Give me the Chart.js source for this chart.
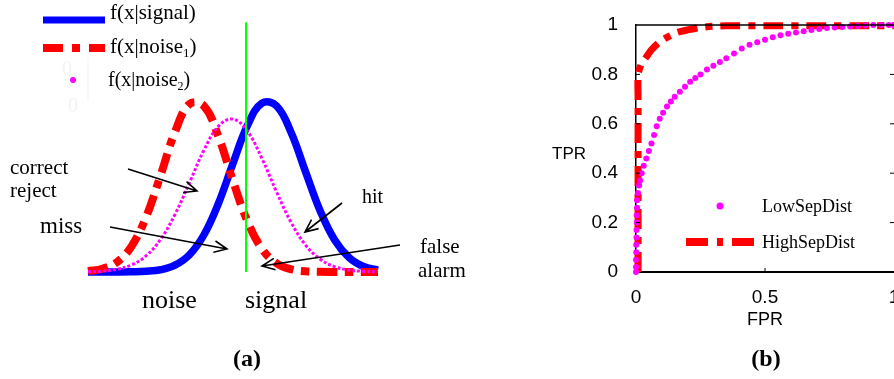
<!DOCTYPE html>
<html>
<head>
<meta charset="utf-8">
<script src="https://cdn.jsdelivr.net/npm/chart.js@4.4.1/dist/chart.umd.min.js"></script>
<style>
  html, body { margin: 0; padding: 0; background: #fff; overflow: hidden; }
  #wrap { position: relative; width: 894px; height: 379px; }
  canvas { position: absolute; left: 0; top: 0; }
</style>
</head>
<body>
<div id="wrap">
  <canvas id="distChart" width="894" height="379"></canvas>
  <canvas id="rocChart" width="894" height="379"></canvas>
</div>
<script>
// ---- panel (a): class-conditional densities ----
const xPos   = [0, 0.5, 1, 1.5, 2, 2.5, 3, 3.5, 4, 4.5, 5, 5.5, 6, 6.5, 7, 7.5, 8, 8.5, 9, 9.5, 10];
const signal = [0, 0, 0, 0.001, 0.004, 0.013, 0.040, 0.101, 0.218, 0.402, 0.635, 0.857, 0.987, 0.972, 0.817, 0.587, 0.360, 0.189, 0.085, 0.032, 0.011];
const noise1 = [0.005, 0.019, 0.058, 0.150, 0.320, 0.564, 0.819, 0.982, 0.970, 0.791, 0.533, 0.296, 0.135, 0.051, 0.016, 0.004, 0.001, 0, 0, 0, 0];
const noise2 = [0.002, 0.005, 0.016, 0.041, 0.094, 0.190, 0.337, 0.523, 0.713, 0.853, 0.894, 0.822, 0.663, 0.469, 0.291, 0.158, 0.076, 0.031, 0.012, 0.004, 0.001];
const thresholdX = [5.45, 5.45];
const thresholdY = [0, 1.46];

// ---- panel (b): ROC curves ----
const lowFpr = [0, 0, 0, 0.001, 0.001, 0.002, 0.002, 0.003, 0.003, 0.004, 0.004, 0.008, 0.012, 0.016, 0.022, 0.03, 0.04, 0.05, 0.06, 0.07, 0.08, 0.092, 0.105, 0.12, 0.135, 0.15, 0.17, 0.19, 0.21, 0.23, 0.25, 0.275, 0.30, 0.325, 0.35, 0.38, 0.41, 0.44, 0.47, 0.50, 0.53, 0.56, 0.59, 0.62, 0.65, 0.68, 0.71, 0.74, 0.77, 0.80, 0.83, 0.86, 0.89, 0.92, 0.95, 0.98, 1];
const lowTpr = [0, 0.02, 0.05, 0.08, 0.11, 0.14, 0.17, 0.2, 0.23, 0.26, 0.29, 0.32, 0.35, 0.37, 0.40, 0.43, 0.46, 0.49, 0.52, 0.555, 0.59, 0.62, 0.645, 0.67, 0.69, 0.71, 0.73, 0.75, 0.77, 0.785, 0.80, 0.82, 0.835, 0.85, 0.865, 0.885, 0.905, 0.92, 0.93, 0.94, 0.95, 0.958, 0.965, 0.97, 0.975, 0.98, 0.984, 0.988, 0.99, 0.992, 0.994, 0.996, 0.998, 1, 1, 1, 1];
const highFpr = [0.008, 0.008, 0.008, 0.008, 0.008, 0.008, 0.008, 0.008, 0.008, 0.02, 0.04, 0.06, 0.09, 0.12, 0.16, 0.20, 0.25, 0.30, 0.35, 0.5, 0.7, 0.9, 1];
const highTpr = [0, 0.1, 0.2, 0.3, 0.4, 0.5, 0.6, 0.7, 0.8, 0.84, 0.87, 0.9, 0.93, 0.95, 0.97, 0.98, 0.99, 0.995, 0.997, 0.997, 0.997, 0.997, 0.997];
const yTicks = [0, 0.2, 0.4, 0.6, 0.8, 1];
const xTicks = [0, 0.5, 1];

const serif = '"Liberation Serif", "Times New Roman", serif';
const sans = '"Liberation Sans", Arial, sans-serif';

function pts(xs, ys) { return xs.map((x, i) => ({ x: x, y: ys[i] })); }

function arrow(ctx, x1, y1, x2, y2) {
  const a = Math.atan2(y2 - y1, x2 - x1), L = 14, w = 0.42;
  ctx.beginPath();
  ctx.moveTo(x1, y1); ctx.lineTo(x2, y2);
  ctx.moveTo(x2 - L * Math.cos(a - w), y2 - L * Math.sin(a - w));
  ctx.lineTo(x2, y2);
  ctx.lineTo(x2 - L * Math.cos(a + w), y2 - L * Math.sin(a + w));
  ctx.stroke();
}

function text(ctx, s, x, y, size, opts) {
  opts = opts || {};
  ctx.font = (opts.bold ? 'bold ' : '') + size + 'px ' + (opts.family || serif);
  ctx.fillStyle = opts.color || '#000';
  ctx.textAlign = opts.align || 'left';
  ctx.textBaseline = 'alphabetic';
  ctx.fillText(s, x, y);
  return ctx.measureText(s).width;
}

function subLabel(ctx, base, sub, x, y, size) {
  let w = text(ctx, base, x, y, size);
  w += text(ctx, sub, x + w, y + 4, Math.round(size * 0.6));
  text(ctx, ')', x + w, y, size);
}

// annotations of panel (a)
const distDecor = {
  id: 'distDecor',
  afterDraw(chart) {
    const ctx = chart.ctx;
    ctx.save();
    // faint leftovers of a hidden axis
    text(ctx, '0.', 62, 75, 20, { color: '#f3f3f3' });
    text(ctx, '0', 68, 112, 20, { color: '#f3f3f3' });
    ctx.strokeStyle = '#f3f3f3'; ctx.lineWidth = 1;
    ctx.beginPath(); ctx.moveTo(88, 58); ctx.lineTo(88, 100); ctx.stroke();

    // legend
    ctx.lineCap = 'butt';
    ctx.strokeStyle = '#0000ff'; ctx.lineWidth = 7;
    ctx.beginPath(); ctx.moveTo(43, 20); ctx.lineTo(105, 20); ctx.stroke();
    ctx.strokeStyle = '#ff0000'; ctx.lineWidth = 8; ctx.setLineDash([20, 9, 8, 9]);
    ctx.beginPath(); ctx.moveTo(43, 48); ctx.lineTo(105, 48); ctx.stroke();
    ctx.setLineDash([]);
    ctx.fillStyle = '#ff00ff';
    ctx.beginPath(); ctx.arc(73, 80, 3, 0, Math.PI * 2); ctx.fill();
    text(ctx, 'f(x|signal)', 110, 19, 21);
    subLabel(ctx, 'f(x|noise', '1', 110, 53, 21);
    subLabel(ctx, 'f(x|noise', '2', 108, 86, 20);

    // arrows
    ctx.strokeStyle = '#000'; ctx.lineWidth = 1.6;
    arrow(ctx, 128, 169, 197, 191);
    arrow(ctx, 110, 227, 227, 249);
    arrow(ctx, 342, 203, 305, 232);
    arrow(ctx, 400, 245, 262, 266);

    text(ctx, 'correct', 10, 174, 21);
    text(ctx, 'reject', 10, 197, 21);
    text(ctx, 'miss', 40, 233, 23);
    text(ctx, 'hit', 362, 203, 20);
    text(ctx, 'false', 420, 253, 21);
    text(ctx, 'alarm', 418, 277, 21);
    text(ctx, 'noise', 142, 308, 26);
    text(ctx, 'signal', 245, 308, 26);
    text(ctx, '(a)', 247, 366, 24, { bold: true, align: 'center' });
    ctx.restore();
  }
};

new Chart(document.getElementById('distChart'), {
  type: 'line',
  data: {
    datasets: [
      { label: 'threshold', data: pts(thresholdX, thresholdY), borderColor: '#00ff00', borderWidth: 2, pointRadius: 0, tension: 0, clip: false },
      { label: 'f(x|noise2)', data: pts(xPos, noise2), borderColor: '#ff00ff', borderWidth: 3, borderDash: [3, 2], pointRadius: 0, tension: 0.4, clip: false },
      { label: 'f(x|noise1)', data: pts(xPos, noise1), borderColor: '#ff0000', borderWidth: 8, borderDash: [20, 8, 8, 8], pointRadius: 0, tension: 0.4, clip: false },
      { label: 'f(x|signal)', data: pts(xPos, signal), borderColor: '#0000ff', borderWidth: 7.5, pointRadius: 0, tension: 0.4, clip: false }
    ]
  },
  options: {
    responsive: false,
    animation: false,
    devicePixelRatio: 1,
    layout: { padding: { left: 88, right: 516, top: 22, bottom: 107 }, autoPadding: false },
    scales: {
      x: { type: 'linear', min: 0, max: 10, display: false },
      y: { min: 0, max: 1.462, display: false }
    },
    plugins: { legend: { display: false }, tooltip: { enabled: false } }
  },
  plugins: [distDecor]
});

// decorations of panel (b)
const rocDecor = {
  id: 'rocDecor',
  afterDraw(chart) {
    const ctx = chart.ctx, a = chart.chartArea;
    const xs = chart.scales.x, ys = chart.scales.y;
    ctx.save();
    ctx.strokeStyle = '#000';
    ctx.lineWidth = 1.5;
    ctx.beginPath(); ctx.moveTo(a.left, a.top); ctx.lineTo(a.right, a.top); ctx.stroke();
    ctx.lineWidth = 1;
    yTicks.slice(1, -1).forEach(v => {
      const py = ys.getPixelForValue(v);
      ctx.beginPath();
      ctx.moveTo(a.left, py); ctx.lineTo(a.left + 4, py);
      ctx.moveTo(a.right - 4, py); ctx.lineTo(a.right, py);
      ctx.stroke();
    });
    xTicks.slice(1, -1).forEach(v => {
      const px = xs.getPixelForValue(v);
      ctx.beginPath(); ctx.moveTo(px, a.bottom); ctx.lineTo(px, a.bottom - 4); ctx.stroke();
    });

    // legend
    ctx.fillStyle = '#ff00ff';
    ctx.beginPath(); ctx.arc(720, 206, 3.5, 0, Math.PI * 2); ctx.fill();
    ctx.strokeStyle = '#ff0000'; ctx.lineWidth = 8; ctx.setLineDash([22, 9, 6, 9]);
    ctx.beginPath(); ctx.moveTo(686, 242); ctx.lineTo(754, 242); ctx.stroke();
    ctx.setLineDash([]);
    text(ctx, 'LowSepDist', 762, 212, 18);
    text(ctx, 'HighSepDist', 762, 248, 18);

    text(ctx, 'TPR', 569, 159, 17, { family: sans, align: 'center' });
    text(ctx, 'FPR', 765, 325, 18, { family: sans, align: 'center' });
    text(ctx, '(b)', 766, 366, 24, { bold: true, align: 'center' });
    ctx.restore();
  }
};

new Chart(document.getElementById('rocChart'), {
  type: 'scatter',
  data: {
    datasets: [
      { label: 'LowSepDist', data: pts(lowFpr, lowTpr), showLine: false, pointRadius: 3, pointBackgroundColor: '#ff00ff', pointBorderWidth: 0, clip: false },
      { label: 'HighSepDist', data: pts(highFpr, highTpr), showLine: true, borderColor: '#ff0000', borderWidth: 7, borderDash: [20, 8, 7, 8], pointRadius: 0, tension: 0.2, clip: false }
    ]
  },
  options: {
    responsive: false,
    animation: false,
    devicePixelRatio: 1,
    layout: { padding: { left: 0, right: 0, top: 25, bottom: 0 }, autoPadding: false },
    scales: {
      x: {
        type: 'linear', min: 0, max: 1,
        afterBuildTicks(s) { s.ticks = xTicks.map(v => ({ value: v })); },
        ticks: { font: { family: sans, size: 19 }, color: '#000', padding: 6, maxRotation: 0, autoSkip: false, callback: v => String(v) },
        grid: { display: false },
        border: { display: true, color: '#000', width: 2 },
        afterFit(s) { s.height = 107; s.paddingLeft = 0; s.paddingRight = 0; }
      },
      y: {
        min: 0, max: 1,
        afterBuildTicks(s) { s.ticks = yTicks.map(v => ({ value: v })); },
        ticks: { font: { family: sans, size: 19 }, color: '#000', padding: 10, autoSkip: false, callback: v => String(v) },
        grid: { display: false },
        border: { display: true, color: '#000', width: 1.5 },
        afterFit(s) { s.width = 636; s.paddingTop = 0; s.paddingBottom = 0; }
      }
    },
    plugins: { legend: { display: false }, tooltip: { enabled: false } }
  },
  plugins: [rocDecor]
});
</script>
</body>
</html>
